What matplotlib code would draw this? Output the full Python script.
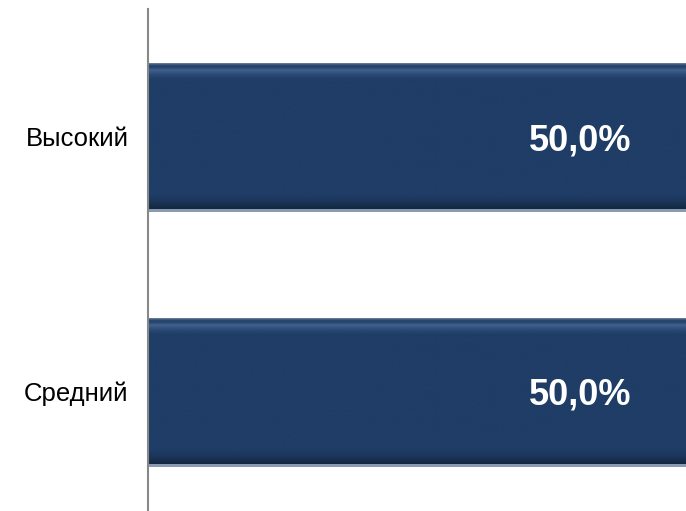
import matplotlib
matplotlib.use("Agg")
import matplotlib.pyplot as plt
import numpy as np
from matplotlib.colors import to_rgb

categories = ["Средний", "Высокий"]
values = [50.0, 50.0]
labels = ["50,0%", "50,0%"]

bar_color = "#1f3d66"

fig = plt.figure(figsize=(6.86, 5.11), dpi=100)
ax = fig.add_axes([148 / 686, -7.5 / 511, 1 - 148 / 686, 509.5 / 511])

ypos = list(range(len(categories)))
h = 0.573
bars = ax.barh(ypos, values, height=h, color=bar_color, zorder=2)

# vertical shading profile of each bar (top -> bottom)
stops = [(0.00, "#6b7f9a"), (0.012, "#2a4670"), (0.025, "#23426c"),
         (0.045, "#41618c"), (0.075, "#2c4b76"), (0.11, "#1f3d66"),
         (0.90, "#1f3d66"), (0.95, "#1b3659"), (1.00, "#142740")]
n = 200
t = np.linspace(0, 1, n)
pos = [s[0] for s in stops]
cols = np.array([to_rgb(s[1]) for s in stops])
grad = np.stack([np.interp(t, pos, cols[:, k]) for k in range(3)], axis=1)
grad = grad[:, None, :]

for b in bars:
    x0, y0, w, hh = b.get_x(), b.get_y(), b.get_width(), b.get_height()
    ax.imshow(grad, extent=(x0, x0 + w, y0, y0 + hh), aspect="auto",
              interpolation="bilinear", zorder=3)
    ax.barh(y0 - 0.006, w, left=x0, height=0.012, color="#8a9ab0", zorder=3)

ax.set_xlim(0, 50)
ax.set_ylim(-0.5, 1.5)

for y, v, lab in zip(ypos, values, labels):
    ax.annotate(lab, xy=(v, y), xytext=(-76, -3), textcoords="offset points",
                ha="center", va="center", color="white", fontsize=26,
                fontweight="bold", family="Liberation Sans", zorder=4)

ax.set_yticks(ypos)
ax.set_yticklabels(categories, fontsize=18.5, family="Liberation Sans")
ax.tick_params(axis="y", length=0, pad=14)
ax.set_xticks([])
for s in ["top", "right", "bottom"]:
    ax.spines[s].set_visible(False)
ax.spines["left"].set_color("#888888")
ax.spines["left"].set_linewidth(1.5)
ax.spines["left"].set_zorder(5)

fig.savefig("out.png", dpi=100)
